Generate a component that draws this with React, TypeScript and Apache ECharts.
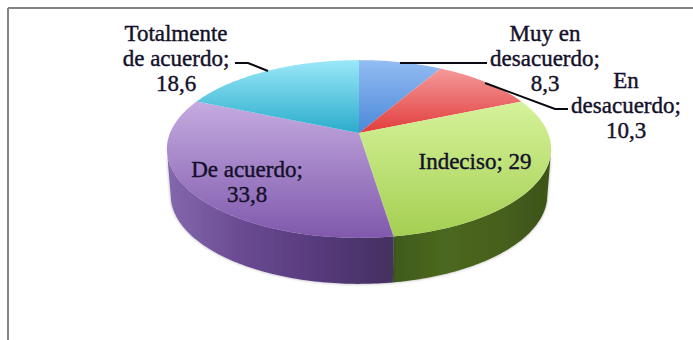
import React, { useEffect, useRef } from "react";
import * as echarts from "echarts";

const categoryLines = [
  ["Muy en", "desacuerdo;"],
  ["En", "desacuerdo;"],
  ["Indeciso;"],
  ["De acuerdo;"],
  ["Totalmente", "de acuerdo;"],
];
const values = [8.3, 10.3, 29, 33.8, 18.6];
const inlineValue = [false, false, true, false, false];

const topColors = [
  ["#93bcf2", "#4a88d8"],
  ["#f49a9a", "#e23c3c"],
  ["#d6f29a", "#a4cf52"],
  ["#c4abe0", "#8058ac"],
  ["#9ae8f8", "#2aaccc"],
];
const wallColors: Record<number, string[]> = {
  2: ["#3f5a1a", "#4c6820", "#47601d", "#3c5318"],
  3: ["#8468ae", "#694a92", "#573a7c", "#43305f"],
};
const labelPos = [
  [545, 58],
  [626, 105],
  [475, 161],
  [247, 182],
  [176, 58],
];
const leaders = [
  [[400, 63], [487, 63]],
  [[485, 83], [555, 109], [568, 109]],
  [[235, 63], [248, 63], [268, 71]],
];

const CX = 359, APEX_Y = 133, A = 189, B = 86, K = 0.18, DEPTH = 46, LOW_SCALE = 0.98;
const FRONT_FROM = 101, FRONT_TO = 259;
const total = values.reduce((s, v) => s + v, 0);

function project(deg: number): number[] {
  const t = (deg * Math.PI) / 180;
  const u = Math.sin(t), v = -Math.cos(t);
  const w = 1 - K * v;
  return [CX + (A * u) / w, APEX_Y + (B * v) / w];
}
function arc(from: number, to: number): number[][] {
  const pts: number[][] = [];
  const n = Math.max(2, Math.ceil(to - from));
  for (let i = 0; i <= n; i++) pts.push(project(from + ((to - from) * i) / n));
  return pts;
}

function renderItem(params: any, api: any) {
  const i = params.dataIndex;
  const before = values.slice(0, i).reduce((s, v) => s + v, 0);
  const start = (before / total) * 360;
  const end = start + (api.value(0) / total) * 360;
  const children: any[] = [];

  const wFrom = Math.max(start, FRONT_FROM), wTo = Math.min(end, FRONT_TO);
  if (wTo > wFrom && wallColors[i]) {
    const rim = arc(wFrom, wTo);
    const low = rim.map((p) => [CX + (p[0] - CX) * LOW_SCALE, p[1] + DEPTH]).reverse();
    const stops = wallColors[i].map((c, k, a) => ({ offset: k / (a.length - 1), color: c }));
    children.push({
      type: "polygon",
      shape: { points: rim.concat(low) },
      style: {
        fill: new echarts.graphic.LinearGradient(0, 0, 1, 0, stops),
        shadowBlur: 3,
        shadowColor: "rgba(0,0,0,0.35)",
      },
    });
  }
  children.push({
    type: "polygon",
    shape: { points: [[CX, APEX_Y], ...arc(start, end)] },
    style: {
      fill: new echarts.graphic.LinearGradient(0, 0, 0, 1, [
        { offset: 0, color: topColors[i][0] },
        { offset: 1, color: topColors[i][1] },
      ]),
    },
  });

  const num = String(api.value(0)).replace(".", ",");
  const lines = inlineValue[i]
    ? [categoryLines[i].join(" ") + " " + num]
    : [...categoryLines[i], num];
  children.push({
    type: "text",
    x: labelPos[i][0],
    y: labelPos[i][1],
    z2: 10,
    style: {
      text: lines.join("\n"),
      align: "center",
      verticalAlign: "middle",
      fontFamily: "Liberation Serif",
      fontSize: 23,
      lineHeight: 25,
      fontWeight: 400,
      fill: "#14102a",
      stroke: "#14102a",
      lineWidth: 0.4,
    },
  });
  return { type: "group", children };
}

export default function App() {
  const ref = useRef<HTMLDivElement>(null);
  useEffect(() => {
    const chart = echarts.init(ref.current!, undefined, { renderer: "svg" });
    chart.setOption({
      animation: false,
      backgroundColor: "#ffffff",
      graphic: [
        { type: "line", shape: { x1: 8, y1: 8, x2: 693, y2: 8 }, style: { stroke: "#858585", lineWidth: 2 } },
        { type: "line", shape: { x1: 8, y1: 8, x2: 8, y2: 340 }, style: { stroke: "#858585", lineWidth: 2 } },
        ...leaders.map((pts) => ({
          type: "polyline",
          z: 20,
          shape: { points: pts },
          style: { stroke: "#0a0a14", lineWidth: 2, fill: "none" },
        })),
      ],
      series: [
        {
          type: "custom",
          coordinateSystem: "none",
          silent: true,
          renderItem,
          data: values.map((v) => [v]),
        },
      ],
    });
    return () => chart.dispose();
  }, []);
  return (
    <div
      ref={ref}
      style={{ position: "fixed", left: 0, top: 0, width: 693, height: 340 }}
    />
  );
}
